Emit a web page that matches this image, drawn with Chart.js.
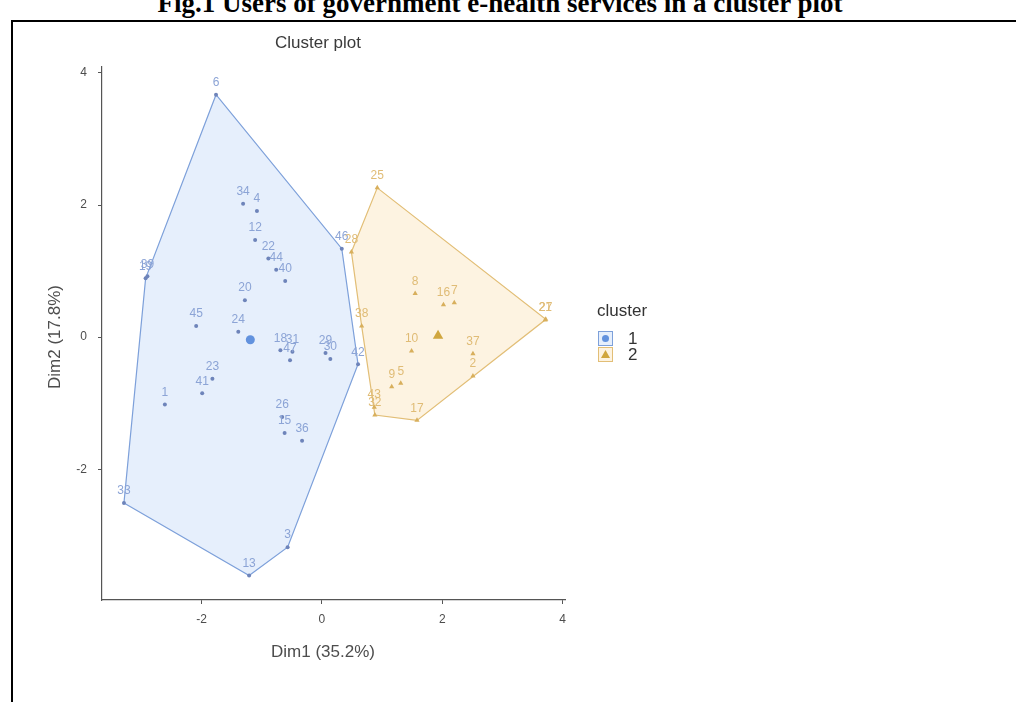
<!DOCTYPE html>
<html><head><meta charset="utf-8">
<script src="https://cdn.jsdelivr.net/npm/chart.js@4/dist/chart.umd.min.js"></script>
<style>
html,body{margin:0;padding:0;background:#fff;overflow:hidden;width:1016px;height:702px;position:relative;}
#cap{position:absolute;left:-8px;width:1016px;top:-10px;text-align:center;font:bold 27px "Liberation Serif","Times New Roman",serif;line-height:27px;color:#000;white-space:nowrap;}
#frame{position:absolute;left:11px;top:20px;width:1100px;height:800px;border:2px solid #000;box-sizing:border-box;background:transparent;}
#wrap{position:absolute;left:0;top:0;width:1016px;height:702px;}
</style></head><body>
<div id="cap">Fig.1 Users of government e-health services in a cluster plot</div>
<div id="frame"></div>
<div id="wrap"><canvas id="c" width="1016" height="702"></canvas></div>
<script>
// ---- data ----
const cluster1Labels = ["6","34","4","12","22","44","40","19","39","20","45","24","18","31","47","29","30","42","46","23","41","1","26","15","36","33","3","13"];
const cluster1X = [-1.76,-1.31,-1.08,-1.11,-0.89,-0.76,-0.61,-2.93,-2.90,-1.28,-2.09,-1.39,-0.69,-0.49,-0.53,0.06,0.14,0.60,0.33,-1.82,-1.99,-2.61,-0.66,-0.62,-0.33,-3.29,-0.57,-1.21];
const cluster1Y = [3.67,2.02,1.91,1.47,1.19,1.02,0.85,0.89,0.92,0.56,0.17,0.08,-0.20,-0.22,-0.35,-0.24,-0.33,-0.41,1.34,-0.63,-0.85,-1.02,-1.21,-1.45,-1.57,-2.51,-3.18,-3.61];
const cluster2Labels = ["25","28","8","16","7","21","27","38","10","37","2","9","5","43","32","17"];
const cluster2X = [0.92,0.49,1.55,2.02,2.20,3.71,3.72,0.66,1.49,2.51,2.51,1.16,1.31,0.87,0.88,1.58];
const cluster2Y = [2.26,1.29,0.66,0.49,0.52,0.26,0.27,0.17,-0.21,-0.25,-0.59,-0.75,-0.70,-1.06,-1.18,-1.26];
const centroidX = [-1.19, 1.93];
const centroidY = [-0.04, 0.02];
const legendLabels = ["1","2"];
const xTicks = [-2,0,2,4];
const yTicks = [-2,0,2,4];

// ---- styles ----
const BLUE_PT='rgb(110,132,186)', BLUE_LAB='rgb(140,164,214)', BLUE_LINE='rgb(125,160,218)', BLUE_FILL='rgba(205,223,250,0.5)', BLUE_CEN='rgb(98,146,222)';
const OR_PT='rgb(216,175,92)', OR_LAB='rgb(224,188,118)', OR_LINE='rgb(226,190,118)', OR_FILL='rgba(252,232,196,0.5)', OR_CEN='rgb(208,166,62)';

function pts(xs, ys){ return xs.map((x,i)=>({x:x,y:ys[i]})); }
function hull(p){
  const a=p.slice().sort((u,v)=>u.x-v.x||u.y-v.y);
  const cr=(o,u,v)=>(u.x-o.x)*(v.y-o.y)-(u.y-o.y)*(v.x-o.x);
  const lo=[],up=[];
  for(const q of a){while(lo.length>=2&&cr(lo[lo.length-2],lo[lo.length-1],q)<=0)lo.pop();lo.push(q);}
  for(let i=a.length-1;i>=0;i--){const q=a[i];while(up.length>=2&&cr(up[up.length-2],up[up.length-1],q)<=0)up.pop();up.push(q);}
  up.pop();lo.pop();const h=lo.concat(up);h.push(h[0]);return h;
}
const p1=pts(cluster1X,cluster1Y), p2=pts(cluster2X,cluster2Y);

const FONT='"Liberation Sans", Arial, sans-serif';
const extras={
  id:'extras',
  afterDatasetsDraw(chart){
    const ctx=chart.ctx, xs=chart.scales.x, ys=chart.scales.y;
    ctx.save();
    ctx.font='12px '+FONT; ctx.textAlign='center'; ctx.textBaseline='middle';
    const lab=(L,X,Y,c)=>{ctx.fillStyle=c;L.forEach((t,i)=>ctx.fillText(t,xs.getPixelForValue(X[i]),ys.getPixelForValue(Y[i])-12));};
    lab(cluster1Labels,cluster1X,cluster1Y,BLUE_LAB);
    lab(cluster2Labels,cluster2X,cluster2Y,OR_LAB);
    ctx.restore();
  },
  afterDraw(chart){
    const ctx=chart.ctx;
    ctx.save();
    ctx.fillStyle='#3a3a3a'; ctx.textAlign='center'; ctx.textBaseline='middle';
    ctx.font='17px '+FONT; ctx.fillText('Cluster plot',318,43);
    ctx.fillStyle='#4d4d4d'; ctx.font='17px '+FONT;
    ctx.fillText('Dim1 (35.2%)',323,652);
    ctx.save(); ctx.translate(55,337); ctx.rotate(-Math.PI/2); ctx.fillText('Dim2 (17.8%)',0,0); ctx.restore();
    // legend
    ctx.textAlign='left'; ctx.fillStyle='#333'; ctx.font='17px '+FONT;
    ctx.fillText('cluster',597,311);
    const keys=[[BLUE_FILL,BLUE_LINE,BLUE_CEN,'circle'],[OR_FILL,OR_LINE,OR_CEN,'triangle']];
    keys.forEach((k,i)=>{
      const y=331+i*16;
      ctx.fillStyle=k[0]; ctx.fillRect(598,y,15,15);
      ctx.strokeStyle=k[1]; ctx.lineWidth=1; ctx.strokeRect(598.5,y+0.5,14,14);
      ctx.fillStyle=k[2];
      if(k[3]==='circle'){ctx.beginPath();ctx.arc(605.5,y+7.5,3.5,0,Math.PI*2);ctx.fill();}
      else{ctx.beginPath();ctx.moveTo(605.5,y+3);ctx.lineTo(610,y+11);ctx.lineTo(601,y+11);ctx.closePath();ctx.fill();}
      ctx.fillStyle='#333'; ctx.fillText(legendLabels[i],628,y+8);
    });
    ctx.restore();
  }
};

new Chart(document.getElementById('c'),{
  type:'scatter',
  data:{datasets:[
    {data:hull(p1),showLine:true,fill:'shape',backgroundColor:BLUE_FILL,borderColor:BLUE_LINE,borderWidth:1.2,pointRadius:0,order:10,tension:0},
    {data:hull(p2),showLine:true,fill:'shape',backgroundColor:OR_FILL,borderColor:OR_LINE,borderWidth:1.2,pointRadius:0,order:9,tension:0},
    {data:p1,pointStyle:'circle',pointRadius:2,backgroundColor:BLUE_PT,borderColor:BLUE_PT,borderWidth:0,order:2},
    {data:p2,pointStyle:'triangle',pointRadius:3,backgroundColor:OR_PT,borderColor:OR_PT,borderWidth:0,order:2},
    {data:[{x:centroidX[0],y:centroidY[0]}],pointStyle:'circle',pointRadius:4.5,backgroundColor:BLUE_CEN,borderColor:BLUE_CEN,borderWidth:0,order:1},
    {data:[{x:centroidX[1],y:centroidY[1]}],pointStyle:'triangle',pointRadius:6,backgroundColor:OR_CEN,borderColor:OR_CEN,borderWidth:0,order:1}
  ]},
  options:{
    responsive:false, animation:false, devicePixelRatio:1,
    layout:{padding:{left:0,top:67,right:1016-565,bottom:702-600-30}},
    plugins:{legend:{display:false},tooltip:{enabled:false}},
    scales:{
      x:{type:'linear',min:-3.655,max:4.04,
        afterBuildTicks:s=>{s.ticks=xTicks.map(v=>({value:v}));},
        afterFit:s=>{s.height=30;},
        grid:{drawOnChartArea:false,drawTicks:true,tickLength:4,color:'#555'},
        border:{display:true,color:'#555',width:1.2},
        ticks:{color:'#4d4d4d',font:{size:12,family:FONT},padding:8}},
      y:{type:'linear',min:-3.98,max:4.09,
        afterBuildTicks:s=>{s.ticks=yTicks.map(v=>({value:v}));},
        afterFit:s=>{s.width=102;},
        grid:{drawOnChartArea:false,drawTicks:true,tickLength:4,color:'#555'},
        border:{display:true,color:'#555',width:1.2},
        ticks:{color:'#4d4d4d',font:{size:12,family:FONT},padding:11}}
    }
  },
  plugins:[extras]
});
</script>
</body></html>
